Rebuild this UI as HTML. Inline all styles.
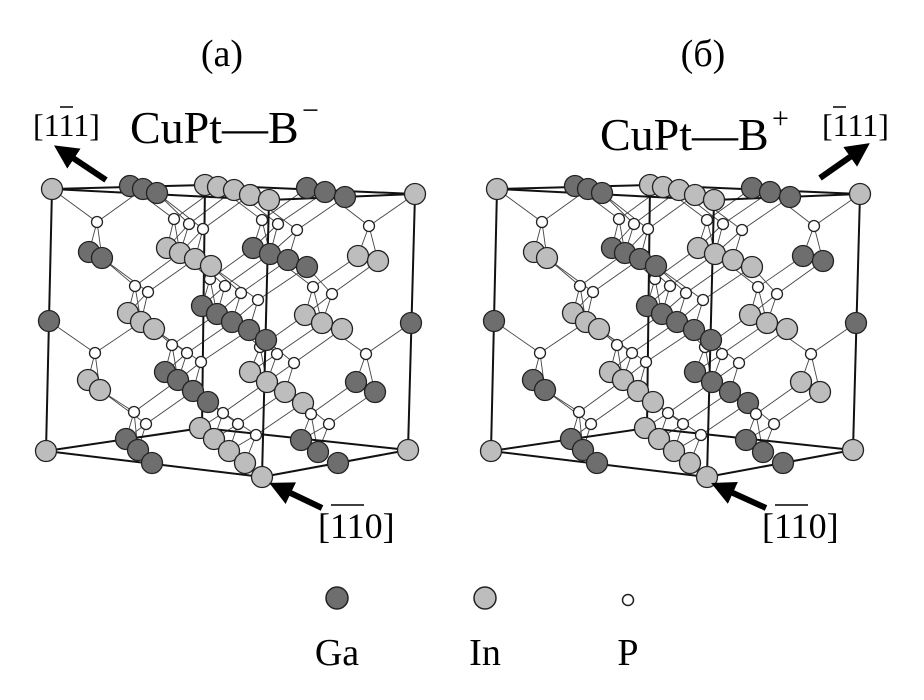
<!DOCTYPE html>
<html><head><meta charset="utf-8"><style>
html,body{margin:0;padding:0;background:#fff;}
svg{display:block;}
text{font-family:"Liberation Serif",serif;fill:#000;}
</style></head><body>
<svg id="s" width="924" height="700" viewBox="0 0 924 700" xmlns="http://www.w3.org/2000/svg">
<defs><marker id="ah" viewBox="0 0 10 10" refX="5" refY="5" markerWidth="4" markerHeight="4" orient="auto"><path d="M0,0L10,5L0,10z" fill="#000"/></marker></defs>
<text x="222" y="66" font-size="38" text-anchor="middle">(a)</text>
<text x="703" y="66" font-size="38" text-anchor="middle">(б)</text>
<text x="33" y="136" font-size="32">[111]</text>
<line x1="60" y1="107" x2="73" y2="107" stroke="#000" stroke-width="1.5"/>
<text x="130" y="143" font-size="46">CuPt—B</text>
<text x="302" y="120" font-size="30">−</text>
<text x="600" y="150" font-size="46">CuPt—B</text>
<text x="772" y="128" font-size="30">+</text>
<text x="822" y="136" font-size="32">[111]</text>
<line x1="833" y1="107" x2="846" y2="107" stroke="#000" stroke-width="1.5"/>
<text x="318" y="538" font-size="36">[110]</text>
<line x1="331" y1="505" x2="364" y2="505" stroke="#000" stroke-width="1.5"/>
<text x="762" y="538" font-size="36">[110]</text>
<line x1="775" y1="505" x2="808" y2="505" stroke="#000" stroke-width="1.5"/>
<g id="g"></g>
<line x1="106" y1="180" x2="64" y2="152" stroke="#000" stroke-width="6" marker-end="url(#ah)"/>
<line x1="322" y1="508" x2="280" y2="488" stroke="#000" stroke-width="6" marker-end="url(#ah)"/>
<line x1="820" y1="178" x2="860" y2="150" stroke="#000" stroke-width="6" marker-end="url(#ah)"/>
<line x1="766" y1="508" x2="722" y2="488" stroke="#000" stroke-width="6" marker-end="url(#ah)"/>
<circle cx="337" cy="598" r="11" fill="#6e6e6e" stroke="#222" stroke-width="1.5"/>
<circle cx="485" cy="598" r="11" fill="#bdbdbd" stroke="#222" stroke-width="1.5"/>
<circle cx="628" cy="600" r="5.5" fill="#fff" stroke="#222" stroke-width="1.5"/>
<text x="337" y="665" font-size="38" text-anchor="middle">Ga</text>
<text x="485" y="665" font-size="38" text-anchor="middle">In</text>
<text x="628" y="665" font-size="38" text-anchor="middle">P</text>
</svg>
<script>
var G='G',I='I',P='P';
var atoms=[
[52,189,I,0],[415,194,I,0],[269,200,I,0],[46,451,I,0],[408,450,I,0],[262,477,I,0],[49,321,G,0],[411,323,G,0],
[130,186,G,0],[143,189,G,0],[157,193,G,0],[205,185,I,0],[218,187,I,0],[234,190,I,0],[250,195,I,0],[307,188,G,0],[325,192,G,0],[345,197,G,0],
[97,222,P],[174,219,P],[189,224,P],[203,229,P],[262,220,P],[278,224,P],[297,230,P],[369,226,P],
[89,252,G,2],[102,258,G,2],[167,248,I,2],[180,253,I,2],[195,259,I,2],[211,266,I,2],[253,248,G,2],[270,254,G,2],[288,260,G,2],[307,267,G,2],[358,256,I,2],[378,261,I,2],
[135,286,P],[148,292,P],[210,279,P],[225,286,P],[241,293,P],[258,300,P],[313,287,P],[332,294,P],
[128,313,I,0],[141,322,I,0],[154,329,I,0],[202,306,G,0],[217,314,G,0],[232,322,G,0],[249,330,G,0],[266,340,G,0],[305,315,I,0],[322,323,I,0],[342,329,I,0],
[95,353,P],[172,345,P],[187,353,P],[201,362,P],[260,347,P],[277,354,P],[294,363,P],[366,354,P],
[88,380,I,2],[100,390,I,2],[165,372,G,2],[178,380,G,2],[193,391,G,2],[208,402,G,2],[250,372,I,2],[267,382,I,2],[285,392,I,2],[303,403,I,2],[356,382,G,2],[375,392,G,2],
[134,412,P],[146,424,P],[223,413,P],[238,424,P],[256,435,P],[311,414,P],[329,424,P],
[126,439,G,0],[138,450,G,0],[152,463,G,0],[200,428,I,0],[214,439,I,0],[229,451,I,0],[245,463,I,0],[301,440,G,0],[318,452,G,0],[338,463,G,0]
];
var frame=[[52,189,205,185],[205,185,415,194],[52,189,269,200],[269,200,415,194],[52,189,46,451],[415,194,408,450],[269,200,262,477],[205,185,202,428],[46,451,202,428],[202,428,408,450],[46,451,262,477],[262,477,408,450]];
var g=document.getElementById('g');
var big=atoms.filter(function(b){return b[2]!=P;});
function draw(dx,flip){
 var s='';
 function ln(a,b){s+='<line x1="'+(a[0]+dx)+'" y1="'+a[1]+'" x2="'+(b[0]+dx)+'" y2="'+b[1]+'" stroke="#444" stroke-width="0.9"/>';}
 atoms.forEach(function(a){ if(a[2]!=P)return;
  var below=big.filter(function(b){return b[1]>a[1]+5;}).map(function(b){return [Math.hypot(b[0]-a[0],b[1]-a[1]),b];}).sort(function(x,y){return x[0]-y[0];});
  for(var k=0;k<2&&k<below.length;k++) if(below[k][0]<50) ln(a,below[k][1]);
  [-1,1].forEach(function(sg){
   var up=big.filter(function(b){return b[1]<a[1]-8 && (b[0]-a[0])*sg>10;}).map(function(b){var dx2=b[0]-a[0],dy2=b[1]-a[1];var sl=Math.abs(dy2/dx2);return [Math.hypot(dx2,dy2)+Math.abs(sl-0.6)*60,b,Math.hypot(dx2,dy2)];}).sort(function(x,y){return x[0]-y[0];});
   if(up.length&&up[0][2]<95) ln(a,up[0][1]);
  });
 });
 frame.forEach(function(f){s+='<line x1="'+(f[0]+dx)+'" y1="'+f[1]+'" x2="'+(f[2]+dx)+'" y2="'+f[3]+'" stroke="#111" stroke-width="2"/>';});
 atoms.slice().sort(function(a,b){return a[0]-b[0];}).forEach(function(a){
  var t=a[2]; if(flip&&a[3]==2&&t!=P) t=(t==G?I:G);
  if(t==P) s+='<circle cx="'+(a[0]+dx)+'" cy="'+a[1]+'" r="5.5" fill="#fff" stroke="#222" stroke-width="1.3"/>';
  else s+='<circle cx="'+(a[0]+dx)+'" cy="'+a[1]+'" r="10.5" fill="'+(t==G?'#6e6e6e':'#bdbdbd')+'" stroke="#222" stroke-width="1.3"/>';
 });
 return s;
}
g.innerHTML=draw(0,false)+draw(445,true);
</script>
</body></html>
